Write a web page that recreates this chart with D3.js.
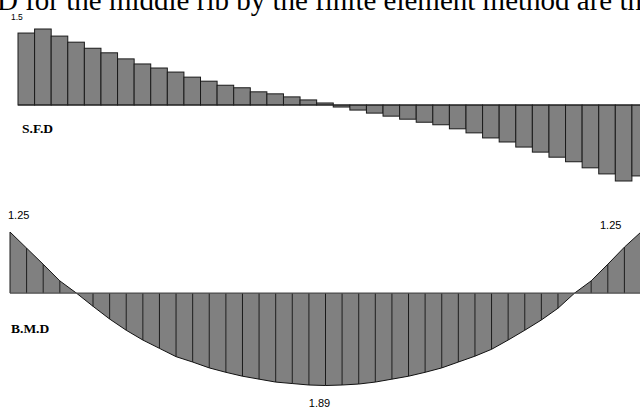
<!DOCTYPE html>
<html>
<head>
<meta charset="utf-8">
<script src="https://cdn.jsdelivr.net/npm/d3@7"></script>
<style>
  body { margin: 0; background: #fff; }
  svg { display: block; }
  .bar { fill: #808080; stroke: #1a1a1a; stroke-width: 1; }
  .strip { fill: #808080; stroke: none; }
  .divider { stroke: #1a1a1a; stroke-width: 1; }
  .outline { fill: none; stroke: #111; stroke-width: 1; }
  .base { stroke: #222; stroke-width: 1; }
  .bmdBase { stroke: #4d4d4d; stroke-width: 1.2; }
  .val { font-family: "Liberation Sans", Arial, sans-serif; fill: #000; }
  .name { font-family: "Liberation Serif", "Times New Roman", serif; font-weight: bold; font-size: 13.5px; fill: #000; }
  .caption { font-family: "Liberation Serif", "Times New Roman", serif; font-size: 29px; fill: #000; }
</style>
</head>
<body>
<div class="horizon"></div>
<script>
/*
----------------------------------------------------------
                   data
----------------------------------------------------------
*/
// shear force per element (38 elements)
var shear = [
   1.42,  1.50,  1.36,  1.24,  1.12,  1.03,  0.91,  0.81,  0.73,  0.65,
   0.55,  0.47,  0.39,  0.34,  0.26,  0.22,  0.16,  0.10,  0.04, -0.04,
  -0.10, -0.16, -0.22, -0.28, -0.34, -0.39, -0.47, -0.55, -0.65, -0.73,
  -0.83, -0.93, -1.03, -1.12, -1.24, -1.36, -1.50, -1.40
];
// bending moment at the nodes (39 nodes)
var moment = [
   1.25,  0.92,  0.59,  0.25,  0.00, -0.27, -0.53, -0.76, -0.96, -1.13,
  -1.30, -1.41, -1.53, -1.62, -1.70, -1.76, -1.82, -1.85, -1.88, -1.89,
  -1.88, -1.86, -1.82, -1.76, -1.70, -1.62, -1.53, -1.41, -1.29, -1.15,
  -0.96, -0.76, -0.55, -0.31,  0.00,  0.25,  0.59,  0.94,  1.25
];
var shearLabels  = ["1.5"];
var momentLabels = ["1.25", "1.89", "1.25"];
var diagramNames = ["S.F.D", "B.M.D"];
var caption = "D for the middle rib by the finite element method are the";

/*
----------------------------------------------------------
                   the page
----------------------------------------------------------
*/
var width = 640, height = 408;

var svg = d3.select(".horizon")
    .append("svg")
        .attr("width", width)
        .attr("height", height);

svg.append("text")
    .attr("class", "caption")
    .attr("x", -3)
    .attr("y", 10)
    .text(caption);

/*
----------------------------------------------------------
                   shear force diagram
----------------------------------------------------------
*/
function ShearDiagram(layer) {
    var x = d3.scaleLinear().domain([0, shear.length]).range([18, 648.5]);
    var y = d3.scaleLinear().domain([-1.5, 1.5]).range([181, 29]);

    layer.selectAll(".bar").data(shear).enter()
        .append("rect")
            .attr("class", "bar")
            .attr("x", function(d, i) { return x(i); })
            .attr("width", function(d, i) { return x(i + 1) - x(i); })
            .attr("y", function(d) { return y(Math.max(0, d)); })
            .attr("height", function(d) { return Math.abs(y(d) - y(0)); });

    layer.append("line")
        .attr("class", "base")
        .attr("x1", x(0)).attr("x2", width)
        .attr("y1", y(0)).attr("y2", y(0));

    layer.append("text")
        .attr("class", "val")
        .attr("font-size", 8.5)
        .attr("x", 11)
        .attr("y", 20)
        .text(shearLabels[0]);

    layer.append("text")
        .attr("class", "name")
        .attr("x", 22)
        .attr("y", 133)
        .text(diagramNames[0]);
}

/*
----------------------------------------------------------
                   bending moment diagram
----------------------------------------------------------
*/
function MomentDiagram(layer) {
    var n = moment.length - 1;
    var x = d3.scaleLinear().domain([0, n]).range([10, 641]);
    var y = d3.scaleLinear().domain([-1.89, 1.25]).range([385.5, 232]);
    var base = y(0);

    var strips = d3.range(n).map(function(i) { return i; });

    layer.selectAll(".strip").data(strips).enter()
        .append("path")
            .attr("class", "strip")
            .attr("d", function(i) {
                return "M " + x(i) + " " + base +
                    " L " + x(i) + " " + y(moment[i]) +
                    " L " + x(i + 1) + " " + y(moment[i + 1]) +
                    " L " + x(i + 1) + " " + base + " z";
            });

    layer.selectAll(".divider").data(moment).enter()
        .append("line")
            .attr("class", "divider")
            .attr("x1", function(d, i) { return x(i); })
            .attr("x2", function(d, i) { return x(i); })
            .attr("y1", base)
            .attr("y2", function(d) { return y(d); });

    var curve = d3.line()
        .x(function(d, i) { return x(i); })
        .y(function(d) { return y(d); });

    layer.append("path")
        .attr("class", "outline")
        .attr("d", curve(moment));

    layer.append("line")
        .attr("class", "bmdBase")
        .attr("x1", x(0)).attr("x2", width)
        .attr("y1", base).attr("y2", base);

    layer.append("text")
        .attr("class", "val")
        .attr("font-size", 11)
        .attr("x", 8)
        .attr("y", 219)
        .text(momentLabels[0]);

    layer.append("text")
        .attr("class", "val")
        .attr("font-size", 11)
        .attr("text-anchor", "middle")
        .attr("x", x(19) - 6)
        .attr("y", 407)
        .text(momentLabels[1]);

    layer.append("text")
        .attr("class", "val")
        .attr("font-size", 11)
        .attr("x", 600)
        .attr("y", 229)
        .text(momentLabels[2]);

    layer.append("text")
        .attr("class", "name")
        .attr("x", 11)
        .attr("y", 333)
        .text(diagramNames[1]);
}

ShearDiagram(svg.append("g").attr("class", "sfd"));
MomentDiagram(svg.append("g").attr("class", "bmd"));
</script>
</body>
</html>
